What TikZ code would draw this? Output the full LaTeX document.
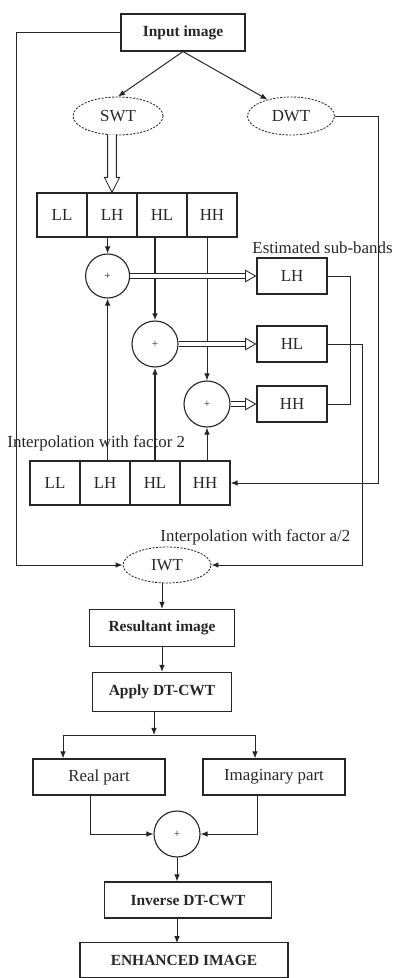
\documentclass[tikz,border=0pt]{standalone}
\usepackage{fontspec}
\setmainfont{Liberation Serif}
\usepackage{tikz}
\usetikzlibrary{arrows.meta,shapes.geometric}

\begin{document}
\begin{tikzpicture}[color=black!85,line width=0.7pt,>={Latex[length=5pt,width=4pt]},
      box/.style={draw,line width=0.9pt,inner sep=0pt,font=\fontsize{11}{13}\selectfont\bfseries},
      part/.style={draw,line width=0.9pt,inner sep=0pt,minimum height=0.9cm,font=\fontsize{12}{14}\selectfont},
      cell/.style={draw,line width=0.9pt,minimum width=1.25cm,minimum height=1.1cm,inner sep=0pt,font=\fontsize{12}{14}\selectfont},
      oval/.style={ellipse,draw,line width=0.6pt,dash pattern=on 1.5pt off 1pt,inner sep=0pt,font=\fontsize{12}{14}\selectfont},
      sumnode/.style={circle,draw,line width=0.8pt,minimum size=1.1cm,inner sep=0pt,font=\footnotesize},
      lbl/.style={anchor=west,inner sep=0pt,font=\fontsize{12}{14}\selectfont},
      hollow/.style={double,double distance=2.4pt,line width=0.6pt,-{Triangle[open,length=8pt,width=9pt]}}]
      \useasboundingbox (0,0) rectangle (9.9,-24.45);
      \node[box,minimum width=3.1cm,minimum height=0.925cm] (inp) at (4.575,-0.81) {Input image};
      \node[oval,minimum width=2.25cm,minimum height=0.95cm] (swt) at (2.95,-2.9) {SWT};
      \node[oval,minimum width=2.175cm,minimum height=0.95cm] (dwt) at (7.275,-2.9) {DWT};
      \node[cell] (ull) at (1.55,-5.375) {LL};
      \node[cell] (ulh) at (2.8,-5.375) {LH};
      \node[cell] (uhl) at (4.05,-5.375) {HL};
      \node[cell] (uhh) at (5.3,-5.375) {HH};
      \node[sumnode] (s1) at (2.69,-6.9) {+};
      \node[sumnode,minimum size=1.15cm] (s2) at (3.875,-8.6) {+};
      \node[sumnode,minimum size=1.15cm] (s3) at (5.175,-10.1) {+};
      \node[part,minimum width=1.75cm] (elh) at (7.3,-6.9) {LH};
      \node[part,minimum width=1.75cm] (ehl) at (7.3,-8.6) {HL};
      \node[part,minimum width=1.75cm] (ehh) at (7.3,-10.1) {HH};
      \node[lbl] (est) at (6.3,-6.2) {Estimated sub-bands};
      \node[lbl] (ipf) at (0.175,-11.075) {Interpolation with factor 2};
      \node[cell] (lll) at (1.375,-12.075) {LL};
      \node[cell] (llh) at (2.625,-12.075) {LH};
      \node[cell] (lhl) at (3.875,-12.075) {HL};
      \node[cell] (lhh) at (5.125,-12.075) {HH};
      \node[lbl] (ipa) at (4.0,-13.425) {Interpolation with factor a/2};
      \node[oval,minimum width=2.2cm,minimum height=0.9cm] (iwt) at (4.175,-14.125) {IWT};
      \node[box,minimum width=3.625cm,minimum height=0.925cm] (res) at (4.05,-15.7) {Resultant image};
      \node[box,minimum width=3.475cm,minimum height=0.975cm] (app) at (4.05,-17.3) {Apply DT-CWT};
      \coordinate (jl) at (1.575,-18.375);
      \coordinate (jm) at (3.85,-18.375);
      \coordinate (jr) at (6.375,-18.375);
      \node[part,minimum width=3.3cm] (rp) at (2.475,-19.425) {Real part};
      \node[part,minimum width=3.55cm] (ip) at (6.85,-19.425) {Imaginary part};
      \node[sumnode,minimum size=1.15cm] (sum) at (4.425,-20.85) {+};
      \node[box,minimum width=4.175cm,minimum height=0.9cm] (inv) at (4.7,-22.5) {Inverse DT-CWT};
      \node[box,minimum width=5.2cm,minimum height=0.875cm] (enh) at (4.6,-24.0) {ENHANCED IMAGE};
      \draw[->] (inp.south) -- (swt.north);
      \draw[->] (inp.south) -- (dwt.145);
      \draw[->] (inp.west) -- ++(-2.6,0) |- (iwt.west);
      \draw[->] (dwt.east) -- ++(1.09,0) |- (lhh.east);
      \draw[line width=0.6pt,fill=white,shift={(ulh.north)}] (-0.11,1.45) -- (-0.11,0.375) -- (-0.19,0.375) -- (0,0) -- (0.19,0.375) -- (0.11,0.375) -- (0.11,1.45);
      \draw[->] (ulh.south -| s1) -- (s1.north);
      \draw[->,line width=1.4pt] (uhl.south -| s2) -- (s2.north);
      \draw[->] (uhh.south -| s3) -- (s3.north);
      \draw[->] (llh.north -| s1) -- (s1.south);
      \draw[->,line width=1.4pt] (lhl.north -| s2) -- (s2.south);
      \draw[->] (lhh.north -| s3) -- (s3.south);
      \draw[hollow] (s1.east) -- (elh.west);
      \draw[hollow] (s2.east) -- (ehl.west);
      \draw[hollow] (s3.east) -- (ehh.west);
      \draw (elh.east) -- ++(0.575,0) |- (ehh.east);
      \draw[->] (ehl.east) -- ++(0.875,0) |- (iwt.east);
      \draw[->] (iwt.south -| res) -- (res.north);
      \draw[->] (res) -- (app);
      \draw[->] ([xshift=-0.2cm]app.south) -- (jm);
      \draw (jl) -- (jr);
      \draw[->] (jl) -- (jl |- rp.north);
      \draw[->] (jr) -- (jr |- ip.north);
      \draw[->] ([xshift=-0.225cm]rp.south) |- (sum.west);
      \draw[->] ([xshift=-0.425cm]ip.south) |- (sum.east);
      \draw[->] (sum) -- (sum |- inv.north);
      \draw[->] ([xshift=-0.275cm]inv.south) -- ++(0,-0.6125);
    \end{tikzpicture}
\end{document}
